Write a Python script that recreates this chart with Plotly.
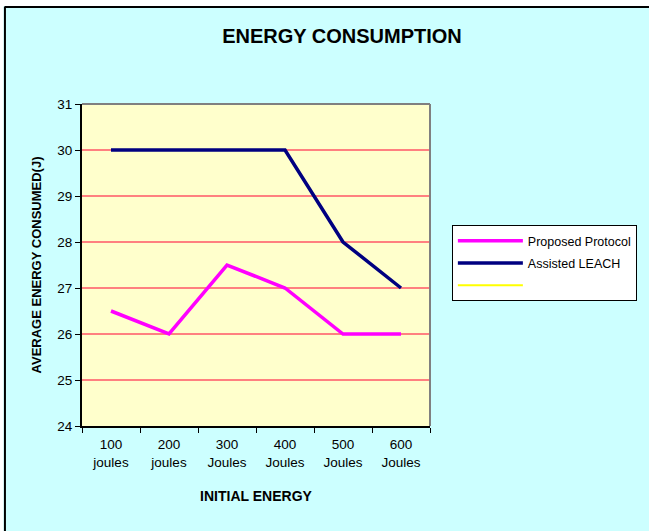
import plotly.graph_objects as go

categories = ["100<br>joules", "200<br>joules", "300<br>Joules", "400<br>Joules", "500<br>Joules", "600<br>Joules"]
proposed = [26.5, 26, 27.5, 27, 26, 26]
assisted = [30, 30, 30, 30, 28, 27]
y_ticks = [24, 25, 26, 27, 28, 29, 30, 31]

W, H = 649, 531
L, R, T, B = 82, 432, 104, 426  # plot area pixel edges

def px(x):
    return (x - L) / (R - L)

def py(y):
    return (B - y) / (B - T)

FONT = "Arial, Liberation Sans, sans-serif"

fig = go.Figure()
fig.add_trace(go.Scatter(x=categories, y=proposed, mode="lines", name="Proposed Protocol",
                         line=dict(color="#FF00FF", width=3.5), legendgroup="a"))
fig.add_trace(go.Scatter(x=categories, y=assisted, mode="lines", name="Assisted LEACH",
                         line=dict(color="#000080", width=3.5), legendgroup="b"))
fig.add_trace(go.Scatter(x=categories, y=[None] * len(categories), mode="lines", name=" ",
                         line=dict(color="#FFFF00", width=2), legendgroup="c", showlegend=True))

fig.update_layout(
    width=W, height=H,
    margin=dict(l=L, r=W - R, t=T, b=H - B, pad=0),
    paper_bgcolor="#CCFFFF",
    plot_bgcolor="#FFFFCC",
    font=dict(family=FONT, size=12, color="#000000"),
    title=dict(text="<b>ENERGY CONSUMPTION</b>", x=(342) / W, xanchor="center",
               y=1 - 36 / H, yanchor="middle", font=dict(size=20, family=FONT)),
    xaxis=dict(
        type="category", range=[-0.5, 5.5], showgrid=False,
        showline=True, linecolor="#000000", linewidth=2,
        ticks="outside", tickson="boundaries", ticklen=5, tickcolor="#000000",
        tickfont=dict(size=13.5, family=FONT), ticklabelstandoff=5,
        title=dict(text="<b>INITIAL ENERGY</b>", font=dict(size=14, family=FONT), standoff=22),
        zeroline=False,
    ),
    yaxis=dict(
        range=[24, 31], tickvals=y_ticks, showgrid=True, gridcolor="#FF8080", gridwidth=1.5,
        showline=True, linecolor="#000000", linewidth=2,
        ticks="outside", ticklen=5, tickcolor="#000000",
        tickfont=dict(size=13.5, family=FONT),
        title=dict(text="<b>AVERAGE ENERGY CONSUMED(J)</b>", font=dict(size=13, family=FONT), standoff=13),
        zeroline=False,
    ),
    legend=dict(
        x=px(454), y=py(225), xanchor="left", yanchor="top",
        bgcolor="#FFFFFF", bordercolor="#000000", borderwidth=1,
        font=dict(size=12.5, family=FONT), tracegroupgap=3, itemwidth=65,
    ),
    showlegend=True,
    shapes=[
        # gray top and right plot border
        dict(type="line", xref="paper", yref="paper", x0=0, x1=1, y0=1, y1=1,
             line=dict(color="#808080", width=2), layer="above"),
        dict(type="line", xref="paper", yref="paper", x0=1, x1=1, y0=0, y1=1,
             line=dict(color="#808080", width=2), layer="above"),
        # white margin strips of the outer frame
        dict(type="rect", xref="paper", yref="paper", x0=px(-5), x1=px(W + 5), y0=py(-5), y1=py(6),
             fillcolor="#FFFFFF", line=dict(width=0), layer="above"),
        dict(type="rect", xref="paper", yref="paper", x0=px(-5), x1=px(3), y0=py(-5), y1=py(H + 5),
             fillcolor="#FFFFFF", line=dict(width=0), layer="above"),
        # outer frame black edges
        dict(type="line", xref="paper", yref="paper", x0=px(4), x1=px(W + 5), y0=py(7), y1=py(7),
             line=dict(color="#000000", width=2), layer="above"),
        dict(type="line", xref="paper", yref="paper", x0=px(4.5), x1=px(4.5), y0=py(7), y1=py(H + 5),
             line=dict(color="#000000", width=2), layer="above"),
    ],
)

fig.write_html("out.html", config={"displayModeBar": False},
               post_script="document.body.style.margin='0px';document.body.style.overflow='hidden';")
